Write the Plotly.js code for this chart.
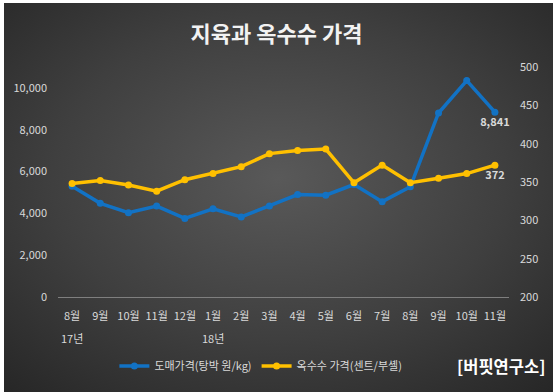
<!DOCTYPE html>
<html>
<head>
<meta charset="utf-8">
<script src="https://cdn.plot.ly/plotly-3.0.1.min.js"></script>
<style>
  html, body { margin: 0; padding: 0; background: #ffffff; }
  #wrap { position: relative; width: 553px; height: 392px; overflow: hidden; }
  #bg { position: absolute; left: 4px; top: 3px; width: 549px; height: 389px;
        background: radial-gradient(ellipse 75% 75% at 50% 45%, #595959 0%, #3f3f3f 55%, #262626 100%); }
  #chart { position: absolute; left: 0; top: 0; width: 553px; height: 392px; }
</style>
</head>
<body>
<div id="wrap"><div id="bg"></div><div id="chart"></div></div>
<script>
const months = ['8월','9월','10월','11월','12월','1월','2월','3월','4월','5월','6월','7월','8월','9월','10월','11월'];
const years  = ['17년','','','','','18년','','','','','','','','','',''];
const porkPrice = [5300, 4480, 4030, 4350, 3760, 4220, 3830, 4350, 4900, 4870, 5380, 4560, 5270, 8800, 10350, 8841];
const cornPrice = [348, 352, 346, 338, 353, 361, 370, 387, 391, 393, 349, 372, 349, 355, 361, 372];
const porkName = '도매가격(탕박 원/kg)';
const cornName = '옥수수 가격(센트/부셸)';
const titleText = '지육과 옥수수 가격';
const sourceText = '[버핏연구소]';

const idx = months.map((m, i) => i);
const lastLabel = (arr, fmt) => arr.map((v, i) => i === arr.length - 1 ? fmt(v) : '');
const FONT = '"Noto Sans CJK KR", "Noto Sans", sans-serif';
const TXT = '#d9d9d9';

const traces = [
  {
    x: idx, y: porkPrice, name: porkName, type: 'scatter', mode: 'lines+markers+text',
    line: { color: '#1272C4', width: 3.5 }, marker: { color: '#1272C4', size: 7 },
    text: lastLabel(porkPrice, v => v.toLocaleString('en-US')), textposition: 'bottom center',
    textfont: { family: FONT, size: 11, color: TXT, weight: 'bold' }, cliponaxis: false
  },
  {
    x: idx, y: cornPrice, name: cornName, type: 'scatter', mode: 'lines+markers+text', yaxis: 'y2',
    line: { color: '#FFC000', width: 3.5 }, marker: { color: '#FFC000', size: 7 },
    text: lastLabel(cornPrice, v => String(v)), textposition: 'bottom center',
    textfont: { family: FONT, size: 11, color: TXT, weight: 'bold' }, cliponaxis: false
  }
];

const annotations = [];
years.forEach((y, i) => {
  if (y) annotations.push({
    x: i, xref: 'x', y: -0.178, yref: 'paper', text: y, showarrow: false,
    font: { family: FONT, size: 11, color: TXT }, xanchor: 'center', yanchor: 'middle'
  });
});
annotations.push({
  x: 1.085, xref: 'paper', y: -0.3, yref: 'paper', text: '<b>' + sourceText + '</b>', showarrow: false,
  font: { family: FONT, size: 16.5, color: '#ffffff' }, xanchor: 'right', yanchor: 'middle'
});

const layout = {
  width: 553, height: 392,
  paper_bgcolor: 'rgba(0,0,0,0)', plot_bgcolor: 'rgba(0,0,0,0)',
  margin: { l: 58, r: 44, t: 67, b: 93 },
  title: { text: titleText, x: 0.5, xanchor: 'center', y: 0.912, yanchor: 'middle',
           font: { family: FONT, size: 22, color: '#f2f2f2', weight: 'bold' } },
  showlegend: true,
  legend: { orientation: 'h', x: 0.125, xanchor: 'left', y: -0.30, yanchor: 'middle',
            font: { family: FONT, size: 11, color: TXT }, bgcolor: 'rgba(0,0,0,0)', itemwidth: 30 },
  xaxis: {
    range: [-0.5, idx.length - 0.5], tickvals: idx, ticktext: months, showgrid: false,
    zeroline: false, showline: false, ticks: '', ticklabelstandoff: 11,
    tickfont: { family: FONT, size: 11, color: TXT }, fixedrange: true
  },
  yaxis: {
    range: [0, 11000], dtick: 2000, tickformat: ',', showgrid: false, zeroline: true,
    zerolinecolor: '#7f7f7f', zerolinewidth: 1, showline: false, ticks: '', ticklabelstandoff: 10,
    tickfont: { family: FONT, size: 11, color: TXT }
  },
  yaxis2: {
    range: [200, 500], dtick: 50, overlaying: 'y', side: 'right', showgrid: false,
    zeroline: false, showline: false, ticks: '', ticklabelstandoff: 10,
    tickfont: { family: FONT, size: 11, color: TXT }
  },
  annotations: annotations
};

Plotly.newPlot('chart', traces, layout, { displayModeBar: false, staticPlot: true });
</script>
</body>
</html>
